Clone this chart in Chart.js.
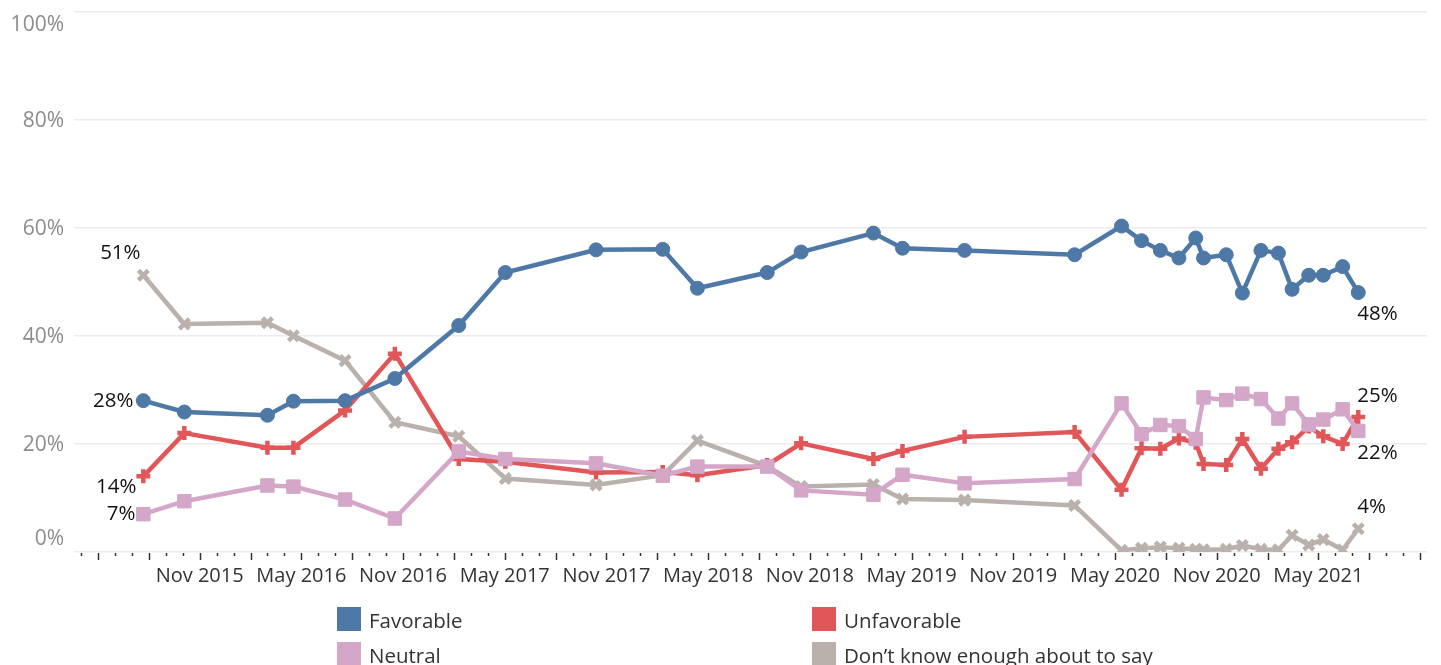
<!DOCTYPE html>
<html><head><meta charset="utf-8">
<script src="https://cdn.jsdelivr.net/npm/chart.js@4.4.1/dist/chart.umd.min.js"></script>
<style>
html,body{margin:0;padding:0;background:#fff;}
#wrap{position:relative;width:1441px;height:665px;overflow:hidden;}
canvas{position:absolute;left:0;top:0;}
.leg{position:absolute;font-family:'Open Sans',sans-serif;font-size:20.5px;color:#333;line-height:24px;white-space:nowrap;}
.sw{position:absolute;width:24px;height:24px;}
</style></head><body>
<div id="wrap"><canvas id="c" width="1441" height="665"></canvas><div id="legend"></div></div>
<script>
// ---- data ----
const seriesNames = ['Favorable', 'Unfavorable', 'Neutral', 'Don\u2019t know enough about to say'];
const seriesColors = ['#4e79a7', '#e15759', '#d4a6c8', '#bab0ac'];
const surveyDates = ['2015-07-22','2015-10-04','2016-03-01','2016-04-17','2016-07-19','2016-10-17','2017-02-09','2017-05-02',
  '2017-10-13','2018-02-10','2018-04-12','2018-08-16','2018-10-16','2019-02-22','2019-04-15','2019-08-05',
  '2020-02-19','2020-05-13','2020-06-18','2020-07-22','2020-08-25','2020-09-24','2020-10-08','2020-11-18',
  '2020-12-17','2021-01-20','2021-02-19','2021-03-15','2021-04-14','2021-05-10','2021-06-14','2021-07-12'];
const favorable = [28, 25.9, 25.3, 27.9, 28, 32.1, 41.9, 51.7, 55.9, 56, 48.8, 51.7, 55.5, 59, 56.2, 55.8,
  55, 60.3, 57.6, 55.8, 54.4, 58.1, 54.4, 55, 47.9, 55.8, 55.3, 48.6, 51.2, 51.2, 52.8, 48];
const unfavorable = [14, 22, 19.3, 19.3, 26.2, 36.7, 17.2, 16.7, 14.7, 14.8, 14.2, 16.1, 20.1, 17.2, 18.7, 21.3,
  22.2, 11.5, 19.2, 19.1, 21, 20.2, 16.3, 16.1, 20.9, 15.4, 19.1, 20.3, 23.2, 21.4, 20, 25];
const neutral = [7, 9.4, 12.3, 12.1, 9.7, 6.2, 18.6, 17.2, 16.4, 14.1, 15.8, 15.8, 11.4, 10.6, 14.3, 12.7,
  13.5, 27.5, 21.8, 23.5, 23.3, 20.9, 28.6, 28.1, 29.3, 28.3, 24.7, 27.5, 23.6, 24.5, 26.4, 22.4];
const dontKnow = [51.2, 42.2, 42.4, 40, 35.4, 24, 21.4, 13.6, 12.4, 14.2, 20.6, 15.9, 12.1, 12.5, 9.8, 9.6,
  8.6, 0.3, 0.7, 0.9, 0.7, 0.5, 0.4, 0.5, 1.2, 0.5, 0.4, 3.1, 1.3, 2.3, 0.4, 4.3];
const tickLabels = ['Nov 2015','May 2016','Nov 2016','May 2017','Nov 2017','May 2018','Nov 2018','May 2019',
  'Nov 2019','May 2020','Nov 2020','May 2021'];
const yTicks = [0, 20, 40, 60, 80, 100];

// ---- helpers ----
const FONT = "'Open Sans', sans-serif";
const MONTHS = ['Jan','Feb','Mar','Apr','May','Jun','Jul','Aug','Sep','Oct','Nov','Dec'];
function monthIndex(s){ const [y,m,d]=s.split('-').map(Number); const dim=new Date(y,m,0).getDate(); return (y-2015)*12+(m-1)+(d-1)/dim; }
function labelIndex(l){ const [mn,yr]=l.split(' '); return (Number(yr)-2015)*12+MONTHS.indexOf(mn); }
const labelMap = {}; tickLabels.forEach(l=>{ labelMap[labelIndex(l)] = l; });
const X_MIN = 2.587, X_MAX = 82.41;
const monthTicks = []; for(let v=Math.ceil(X_MIN); v<=Math.floor(X_MAX); v++) monthTicks.push(v);
const xs = surveyDates.map(monthIndex);
const pts = arr => arr.map((y,i)=>({x:xs[i], y}));

const styles = [
  {pointStyle:'circle', pointRadius:7, pointBorderWidth:1},
  {pointStyle:'cross', pointRadius:7, pointBorderWidth:4.5},
  {pointStyle:'rect', pointRadius:9.5, pointBorderWidth:1},
  {pointStyle:'crossRot', pointRadius:7, pointBorderWidth:4.5}
];
const values = [favorable, unfavorable, neutral, dontKnow];
const mk = i => Object.assign({
  label: seriesNames[i], data: pts(values[i]), borderColor: seriesColors[i], backgroundColor: seriesColors[i],
  pointBackgroundColor: seriesColors[i], pointBorderColor: seriesColors[i], borderWidth: 4.5, tension: 0
}, styles[i]);
// draw order: first dataset drawn on top
const datasets = [mk(0), mk(2), mk(1), mk(3)];

// data label annotations: [series index, 'first'|'last', dx, dy, align]
const annotations = [
  [3,'first',-23,-22,'center'], [0,'first',-10,0,'right'], [1,'first',-7,11,'right'], [2,'first',-8,0,'right'],
  [0,'last',-1,22,'left'], [1,'last',-1,-21,'left'], [2,'last',-1,22,'left'], [3,'last',-1,-22,'left']
];

const custom = {
  id:'custom',
  afterDraw(chart){
    const ctx = chart.ctx, xS = chart.scales.x, yS = chart.scales.y, area = chart.chartArea;
    ctx.save();
    // y labels
    ctx.font = '21px ' + FONT; ctx.fillStyle = '#8c8c8c'; ctx.textAlign = 'right'; ctx.textBaseline = 'middle';
    yTicks.forEach(v=>{
      let y = yS.getPixelForValue(v);
      if (v === 100) y += 14; else if (v === 0) y -= 13; else y += 1.5;
      ctx.fillText(v + '%', 64, y);
    });
    // x tick marks
    ctx.strokeStyle = '#333'; ctx.lineWidth = 1.5;
    monthTicks.forEach(v=>{
      const x = Math.round(xS.getPixelForValue(v)) + 0.5;
      const len = (v % 3 === 1) ? 7 : 3;
      ctx.beginPath(); ctx.moveTo(x, area.bottom + 1); ctx.lineTo(x, area.bottom + 1 + len); ctx.stroke();
    });
    // data labels
    ctx.font = '20.5px ' + FONT; ctx.fillStyle = '#111'; ctx.textBaseline = 'middle';
    annotations.forEach(([si, which, dx, dy, align])=>{
      const dsIndex = datasets.findIndex(d=>d.label===seriesNames[si]);
      const meta = chart.getDatasetMeta(dsIndex);
      const idx = which === 'first' ? 0 : meta.data.length - 1;
      const el = meta.data[idx];
      const v = values[si][idx];
      ctx.textAlign = align;
      ctx.fillText(Math.round(v) + '%', el.x + dx, el.y + dy);
    });
    ctx.restore();
  }
};

new Chart(document.getElementById('c'), {
  type:'line',
  data:{ datasets },
  options:{
    responsive:false, animation:false, events:[],
    layout:{ padding:{ top:7, right:14, bottom:73, left:0 } },
    plugins:{ legend:{display:false}, tooltip:{enabled:false} },
    scales:{
      x:{ type:'linear', min:X_MIN, max:X_MAX,
        grid:{display:false, drawTicks:false}, border:{display:false},
        afterBuildTicks: s => { s.ticks = monthTicks.map(v=>({value:v})); },
        ticks:{ autoSkip:false, maxRotation:0, minRotation:0, padding:12, color:'#333', font:{family:FONT, size:20},
          callback: v => labelMap[v] || '' },
        afterFit: s => { s.height = 40; } },
      y:{ min:0, max:100, ticks:{display:false, stepSize:20},
        grid:{color:'#ececec', lineWidth:1.5, drawTicks:false}, border:{display:false},
        afterFit: s => { s.width = 74; } }
    }
  },
  plugins:[custom]
});

// legend (HTML)
const legendPos = [[337,607],[812,607],[337,642],[812,642]];
const lg = document.getElementById('legend');
seriesNames.forEach((n,i)=>{
  const [x,y] = legendPos[i];
  const sw = document.createElement('div'); sw.className='sw'; sw.style.left=x+'px'; sw.style.top=y+'px'; sw.style.background=seriesColors[i];
  const t = document.createElement('div'); t.className='leg'; t.style.left=(x+32)+'px'; t.style.top=(y+1)+'px'; t.textContent=n;
  lg.appendChild(sw); lg.appendChild(t);
});
</script>
</body></html>
